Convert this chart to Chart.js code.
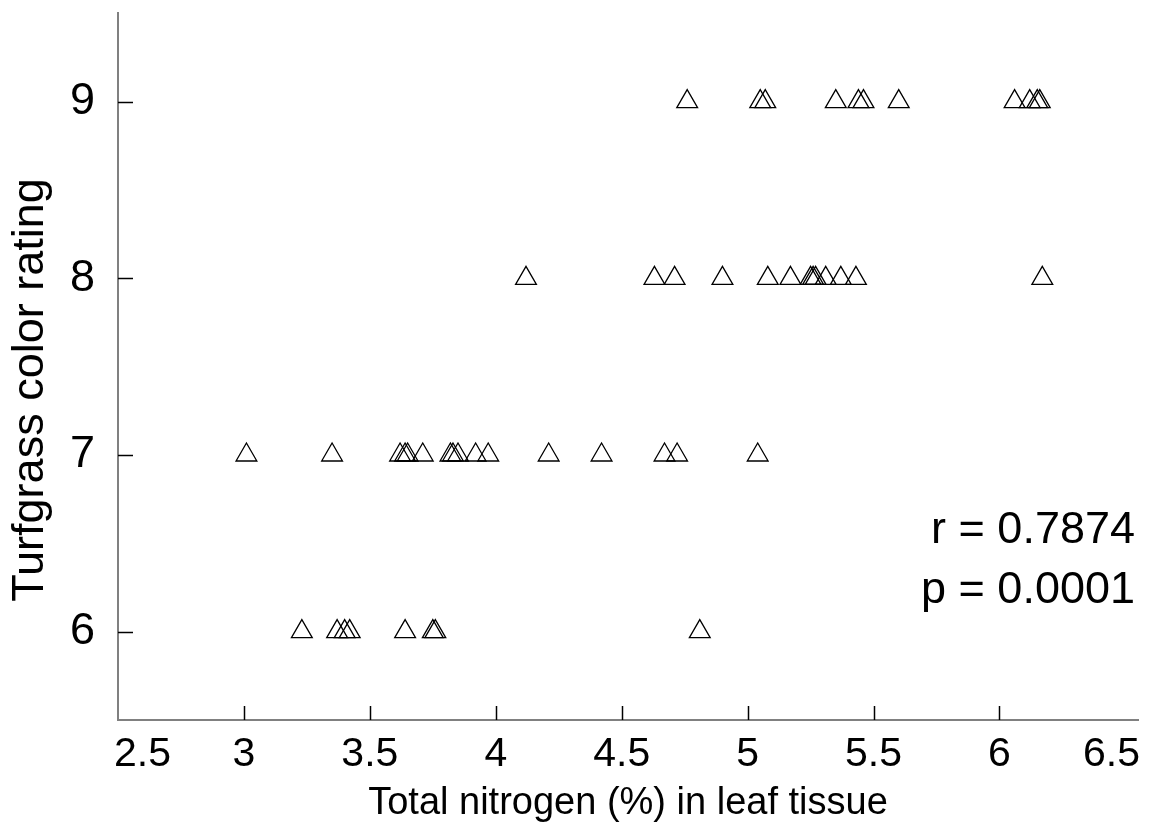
<!DOCTYPE html>
<html>
<head>
<meta charset="utf-8">
<script src="https://cdn.jsdelivr.net/npm/chart.js@4/dist/chart.umd.min.js"></script>
<style>
  body { margin: 0; background: #fff; }
  canvas { display: block; }
</style>
</head>
<body>
<canvas id="myChart" width="1160" height="832"></canvas>
<script>
// nitrogen (%) readings, grouped by color rating
const nitrogen9 = [4.76, 5.05, 5.07, 5.35, 5.44, 5.46, 5.60, 6.06, 6.12, 6.15, 6.16];
const nitrogen8 = [4.12, 4.63, 4.71, 4.90, 5.08, 5.17, 5.25, 5.26, 5.27, 5.31, 5.37, 5.43, 6.17];
const nitrogen7 = [3.01, 3.35, 3.62, 3.64, 3.65, 3.71, 3.82, 3.83, 3.85, 3.92, 3.97,
                   4.21, 4.42, 4.67, 4.72, 5.04];
const nitrogen6 = [3.23, 3.37, 3.40, 3.42, 3.64, 3.75, 3.76, 4.81];

const xTicks = [2.5, 3, 3.5, 4, 4.5, 5, 5.5, 6, 6.5];
const yTicks = [6, 7, 8, 9];
const statsText = ["r = 0.7874", "p = 0.0001"];

const FONT = '"Liberation Sans", Arial, sans-serif';
Chart.defaults.font.family = FONT;
Chart.defaults.color = "#000";

function toPoints(arr, rating) {
  return arr.map(function (n) { return { x: n, y: rating }; });
}

const allPoints = []
  .concat(toPoints(nitrogen9, 9))
  .concat(toPoints(nitrogen8, 8))
  .concat(toPoints(nitrogen7, 7))
  .concat(toPoints(nitrogen6, 6));

// ticks pointing inward, x labels with the end ones kept inside the axis, y title, r/p text
const extras = {
  id: "extras",
  afterDraw(chart) {
    const ctx = chart.ctx;
    const xs = chart.scales.x;
    const ys = chart.scales.y;
    ctx.save();
    ctx.strokeStyle = "#000";
    ctx.lineWidth = 1.5;
    xTicks.forEach(function (v, i) {
      if (i === 0 || i === xTicks.length - 1) return;
      const px = Math.round(xs.getPixelForValue(v)) + 0.5;
      ctx.beginPath();
      ctx.moveTo(px, ys.bottom);
      ctx.lineTo(px, ys.bottom - 14);
      ctx.stroke();
    });
    yTicks.forEach(function (v) {
      const py = Math.round(ys.getPixelForValue(v)) + 0.5;
      ctx.beginPath();
      ctx.moveTo(xs.left, py);
      ctx.lineTo(xs.left + 15, py);
      ctx.stroke();
    });

    ctx.fillStyle = "#000";
    ctx.font = "41px " + FONT;
    ctx.textBaseline = "middle";
    xTicks.forEach(function (v, i) {
      let px = xs.getPixelForValue(v);
      ctx.textAlign = "center";
      if (i === 0) { px = xs.left - 4; ctx.textAlign = "left"; }
      if (i === xTicks.length - 1) { px = xs.right + 2; ctx.textAlign = "right"; }
      ctx.fillText(String(v), px, ys.bottom + 35);
    });

    // y axis title
    ctx.font = "45px " + FONT;
    ctx.save();
    ctx.translate(43, 390);
    ctx.rotate(-Math.PI / 2);
    ctx.textAlign = "center";
    ctx.textBaseline = "alphabetic";
    ctx.fillText("Turfgrass color rating", 0, 0);
    ctx.restore();

    ctx.textAlign = "right";
    ctx.textBaseline = "alphabetic";
    ctx.fillText(statsText[0], xs.right - 3, 543);
    ctx.fillText(statsText[1], xs.right - 3, 603);
    ctx.restore();
  }
};

const myChart = new Chart(document.getElementById("myChart"), {
  type: "scatter",
  data: {
    datasets: [
      {
        label: "color rating",
        data: allPoints,
        pointStyle: "triangle",
        pointRadius: 12,
        pointHoverRadius: 12,
        borderColor: "#000",
        borderWidth: 1.3,
        backgroundColor: "rgba(0,0,0,0)",
      },
    ],
  },
  options: {
    responsive: false,
    animation: false,
    layout: { padding: { top: 11, right: 22, left: 0, bottom: 0 } },
    plugins: {
      legend: { display: false },
      tooltip: { enabled: false },
    },
    scales: {
      x: {
        type: "linear",
        min: 2.5,
        max: 6.55,
        grid: { display: false },
        border: { display: true, color: "#808080", width: 2 },
        ticks: { display: false },
        title: {
          display: true,
          text: "Total nitrogen (%) in leaf tissue",
          font: { size: 38 },
          padding: { top: 0, bottom: 6 },
        },
        afterFit: function (scale) {
          scale.height = 112;
          scale.paddingLeft = 0;
          scale.paddingRight = 0;
        },
      },
      y: {
        type: "linear",
        min: 5.5,
        max: 9.5,
        grid: { display: false },
        border: { display: true, color: "#808080", width: 2 },
        ticks: { padding: 15, font: { size: 45 } },
        afterBuildTicks: function (scale) {
          scale.ticks = yTicks.map(function (v) { return { value: v }; });
        },
        afterFit: function (scale) {
          scale.width = 118;
          scale.paddingTop = 0;
          scale.paddingBottom = 0;
        },
      },
    },
  },
  plugins: [extras],
});
</script>
</body>
</html>
